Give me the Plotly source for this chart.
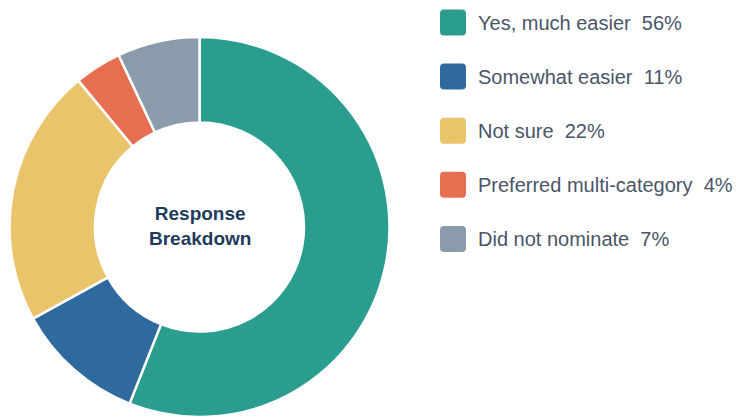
import plotly.graph_objects as go

categories = ["Yes, much easier", "Somewhat easier", "Not sure", "Preferred multi-category", "Did not nominate"]
values = [56, 11, 22, 4, 7]
colors = ["#2a9d8f", "#2e6a9e", "#e9c46a", "#e76f51", "#8a9bab"]
center_text = "Response<br>Breakdown"

W, H = 736, 417
FONT = "Liberation Sans, Arial, Helvetica, sans-serif"

fig = go.Figure()
fig.add_trace(go.Pie(
    labels=categories,
    values=values,
    marker=dict(colors=colors, line=dict(color="white", width=2.5)),
    hole=0.55,
    sort=False,
    direction="clockwise",
    rotation=0,
    textinfo="none",
    hoverinfo="label+percent",
    showlegend=False,
    domain=dict(x=[0, 399 / W], y=[0, 380 / H]),
))

def px2paper(x, y):
    return x / W, 1 - y / H

def rounded_rect(x0, y0, x1, y1, r):
    def P(x, y):
        px, py = px2paper(x, y)
        return f"{px:.5f},{py:.5f}"
    return (
        f"M {P(x0 + r, y0)} L {P(x1 - r, y0)} Q {P(x1, y0)} {P(x1, y0 + r)} "
        f"L {P(x1, y1 - r)} Q {P(x1, y1)} {P(x1 - r, y1)} "
        f"L {P(x0 + r, y1)} Q {P(x0, y1)} {P(x0, y1 - r)} "
        f"L {P(x0, y0 + r)} Q {P(x0, y0)} {P(x0 + r, y0)} Z"
    )

shapes = []
annotations = []
for i, (cat, val, col) in enumerate(zip(categories, values, colors)):
    yc = 22.5 + 54.1 * i
    shapes.append(dict(
        type="path", xref="paper", yref="paper",
        path=rounded_rect(440, yc - 13, 466, yc + 13, 4),
        fillcolor=col, line=dict(width=0),
    ))
    tx, ty = px2paper(476, yc)
    annotations.append(dict(
        x=tx, y=ty, xref="paper", yref="paper", xanchor="left", yanchor="middle",
        text=f"{cat}  {val}%", showarrow=False,
        font=dict(family=FONT, size=20, color="#4a5568"),
    ))

cx, cy = px2paper(199.5, 226)
annotations.append(dict(
    x=cx, y=cy, xref="paper", yref="paper", xanchor="center", yanchor="middle",
    text=f"<b>{center_text}</b>", showarrow=False,
    font=dict(family=FONT, size=19, color="#1f3b5c"),
))

fig.update_layout(
    width=W, height=H,
    margin=dict(l=0, r=0, t=0, b=0),
    paper_bgcolor="white", plot_bgcolor="white",
    shapes=shapes, annotations=annotations,
    showlegend=False,
)

fig.write_html("out.html")
